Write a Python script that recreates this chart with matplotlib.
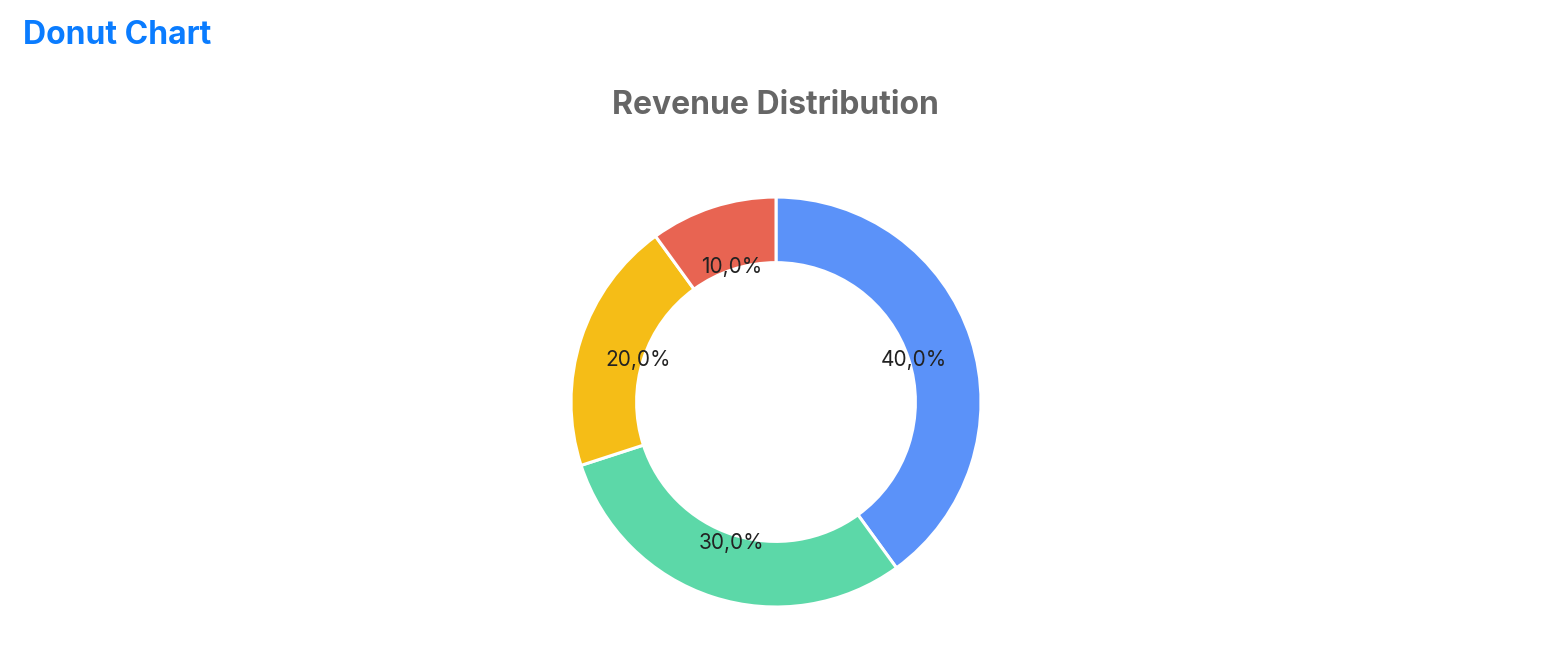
import matplotlib
matplotlib.use("Agg")
import matplotlib.pyplot as plt
import matplotlib.transforms as mtransforms

plt.rcParams['font.family'] = ['Inter', 'DejaVu Sans']

# data
categories = ['A', 'B', 'C', 'D']
revenue = [40, 30, 20, 10]
colors = ['#5B92F9', '#5CD8A8', '#F5BD17', '#E86452']

fig = plt.figure(figsize=(15.5, 6.72), dpi=100)
ax = fig.add_axes([0.3684, 0.0967, 0.2645, 0.6101])

wedges, texts, autotexts = ax.pie(
    revenue,
    colors=colors,
    startangle=90,
    counterclock=False,
    radius=1,
    pctdistance=0.707,
    autopct=lambda p: f"{p:.1f}%".replace('.', ','),
    wedgeprops=dict(width=0.32, edgecolor='white', linewidth=2.2),
    textprops=dict(fontsize=15, color='#222222'),
)
# nudge labels down a few pixels
shift = mtransforms.offset_copy(ax.transData, fig=fig, x=0, y=-2.2, units='points')
for t in autotexts:
    t.set_transform(shift)

ax.set_xlim(-1, 1)
ax.set_ylim(-1, 1)
ax.set_aspect('equal')
ax.axis('off')

fig.text(0.0148, 0.9345, 'Donut Chart', fontsize=23, fontweight='bold',
         color='#0A7CFF', ha='left', va='baseline')
fig.text(0.5006, 0.8304, 'Revenue Distribution', fontsize=23, fontweight='bold',
         color='#666666', ha='center', va='baseline')

fig.savefig('out.png', dpi=100, facecolor='white')
